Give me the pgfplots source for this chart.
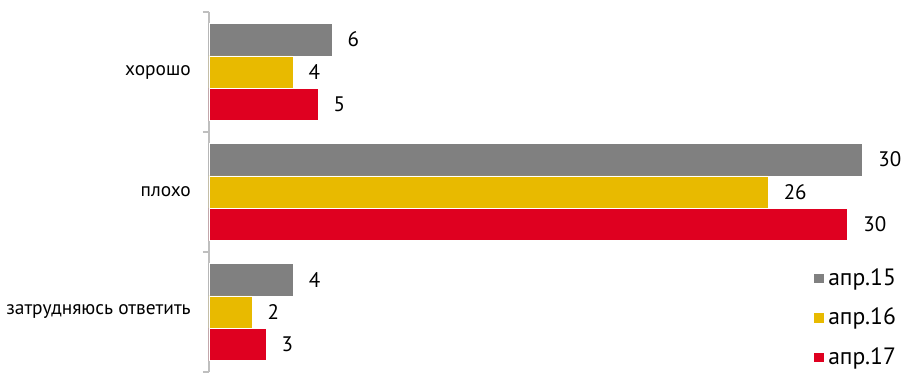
\documentclass[border=0pt]{standalone}
\usepackage{pgfplots}
\pgfplotsset{compat=1.18}
\usepackage{fontspec}
\setmainfont{PT Sans}
\definecolor{cgray}{HTML}{808080}
\definecolor{cyellow}{HTML}{E8BA00}
\definecolor{cred}{HTML}{DF0020}
\definecolor{axgray}{HTML}{BFBFBF}
\begin{document}
\fontsize{9.5pt}{11pt}\selectfont
\begin{tikzpicture}
\begin{axis}[
  scale only axis,
  width=335.5pt, height=180pt,
  xbar, bar width=16.2pt,
  xmin=0, xmax=31.2,
  ymin=-0.5, ymax=2.5, y dir=reverse,
  axis x line=none,
  axis y line*=left,
  axis line style={axgray, line width=0.8pt},
  ytick={0,1,2},
  yticklabels={хорошо, плохо, затрудняюсь ответить},
  major y tick style={draw=none},
  minor ytick={-0.5,0.5,1.5,2.5},
  minor tick length=3pt,
  minor y tick style={axgray, line width=0.8pt},
  tick align=outside,
  yticklabel style={font=\fontsize{9.7pt}{11pt}\selectfont, xshift=-1.5pt},
  point meta=explicit symbolic,
  nodes near coords,
  nodes near coords style={font=\fontsize{10.5pt}{12pt}\selectfont, text=black, anchor=west, xshift=4.5pt},
  clip=false,
  legend style={draw=none, fill=none, at={(0.9,0.3)}, anchor=north west, inner sep=0pt,
    row sep=6.0pt, font=\fontsize{11.8pt}{12pt}\selectfont},
  legend cell align=left,
  legend image code/.code={\fill[#1] (0pt,-2.6pt) rectangle (5.2pt,2.6pt);},
]
\addplot[fill=cgray, draw=white, line width=0.3pt, bar shift=16.2pt] table[x=x, y=y, meta=l] {
x y l
5.72 0 6
30.4 1 30
3.92 2 4
};
\addplot[fill=cyellow, draw=white, line width=0.3pt, bar shift=0pt] table[x=x, y=y, meta=l] {
x y l
3.9 0 4
26.0 1 26
2.0 2 2
};
\addplot[fill=cred, draw=white, line width=0.3pt, bar shift=-16.2pt] table[x=x, y=y, meta=l] {
x y l
5.07 0 5
29.7 1 30
2.65 2 3
};
\legend{апр.15, апр.16, апр.17}
\coordinate (ll) at (rel axis cs:0,0);
\end{axis}
\pgfresetboundingbox
\path (ll) ++(-104.5pt,0) rectangle ++(451pt,186pt);
\end{tikzpicture}
\end{document}
